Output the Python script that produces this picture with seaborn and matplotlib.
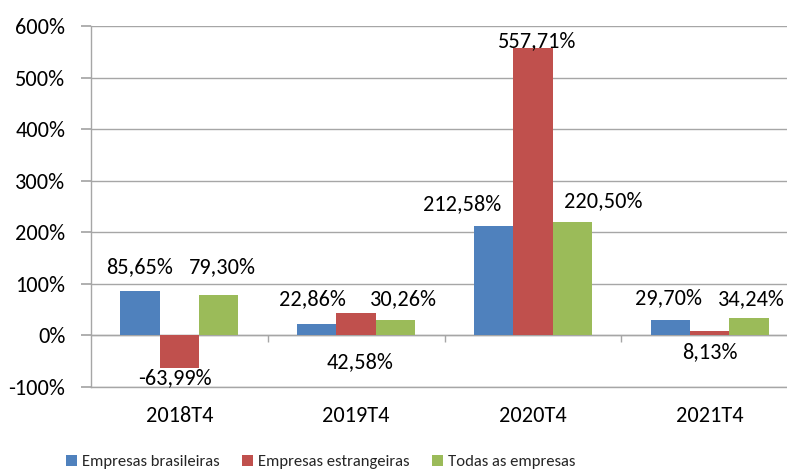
import numpy as np
import pandas as pd
import matplotlib
matplotlib.use("Agg")
import matplotlib.pyplot as plt
from matplotlib.patches import Patch
from matplotlib.ticker import FuncFormatter, MultipleLocator
import seaborn as sns

# dados
periodos = ["2018T4", "2019T4", "2020T4", "2021T4"]
series = ["Empresas brasileiras", "Empresas estrangeiras", "Todas as empresas"]
brasileiras = [85.65, 22.86, 212.58, 29.70]
estrangeiras = [-63.99, 42.58, 557.71, 8.13]
todas = [79.30, 30.26, 220.50, 34.24]
cores = ["#4F81BD", "#C0504D", "#9BBB59"]

df = pd.DataFrame({
    "Periodo": periodos * 3,
    "Serie": np.repeat(series, len(periodos)),
    "Valor": brasileiras + estrangeiras + todas,
})

# deslocamento dos rótulos (pixels) em relação à ponta de cada barra
desloc = {
    0: [(-1, 24), (-4, 25), (-31, 22), (-2, 22)],
    1: [(-4, -10), (4, -49), (4, 7), (0, -21)],
    2: [(4, 27), (8, 21), (31, 21), (2, 19)],
}

sns.set_theme(style="white")
plt.rcParams["font.family"] = ["Carlito", "DejaVu Sans"]
fs = 16

fig = plt.figure(figsize=(7.87, 4.75), dpi=100)
ax = fig.add_axes([91 / 787, 1 - 387 / 475, 707 / 787, 361 / 475])

sns.barplot(data=df, x="Periodo", y="Valor", hue="Serie", palette=cores,
            width=0.667, gap=0, saturation=1, legend=False, ax=ax,
            edgecolor="none", linewidth=0)

ax.set_ylim(-100, 600)
ax.set_xlim(-0.5, 3.5)
ax.yaxis.set_major_locator(MultipleLocator(100))
ax.yaxis.set_major_formatter(FuncFormatter(lambda v, p: f"{int(round(v))}%"))
ax.grid(axis="y", color="#a6a6a6", linewidth=1)
ax.set_axisbelow(True)
ax.axhline(0, color="#a6a6a6", linewidth=1, zorder=0.5)
ax.vlines([0.5, 1.5, 2.5], -12, 0, color="#a6a6a6", linewidth=1, zorder=0.5)

for s in ["top", "right"]:
    ax.spines[s].set_visible(False)
for s in ["left", "bottom"]:
    ax.spines[s].set_color("#a6a6a6")
    ax.spines[s].set_linewidth(1)

ax.tick_params(axis="y", which="major", left=True, length=7, color="#a6a6a6",
               pad=11.5, labelsize=fs, labelcolor="black")
ax.tick_params(axis="x", length=0, pad=14, labelsize=fs, labelcolor="black")
ax.set_xlabel("")
ax.set_ylabel("")

# rótulos de dados
valores = [brasileiras, estrangeiras, todas]
for i, cont in enumerate(ax.containers):
    for j, bar in enumerate(cont):
        v = valores[i][j]
        xc = bar.get_x() + bar.get_width() / 2
        dx, dy = desloc[i][j]
        ax.annotate(f"{v:.2f}".replace(".", ",") + "%", (xc, v),
                    xytext=(dx, dy), textcoords="offset pixels",
                    ha="center", va="center", fontsize=fs, color="black",
                    annotation_clip=False)

handles = [Patch(facecolor=c, edgecolor="none") for c in cores]
fig.legend(handles, series, loc="center left", bbox_to_anchor=(66 / 787, 1 - 462 / 475),
           ncol=3, frameon=False, fontsize=12,
           handlelength=0.65, handleheight=0.65,
           handletextpad=0.3, columnspacing=1.35, borderpad=0, borderaxespad=0)

fig.savefig("out.png", dpi=100)
